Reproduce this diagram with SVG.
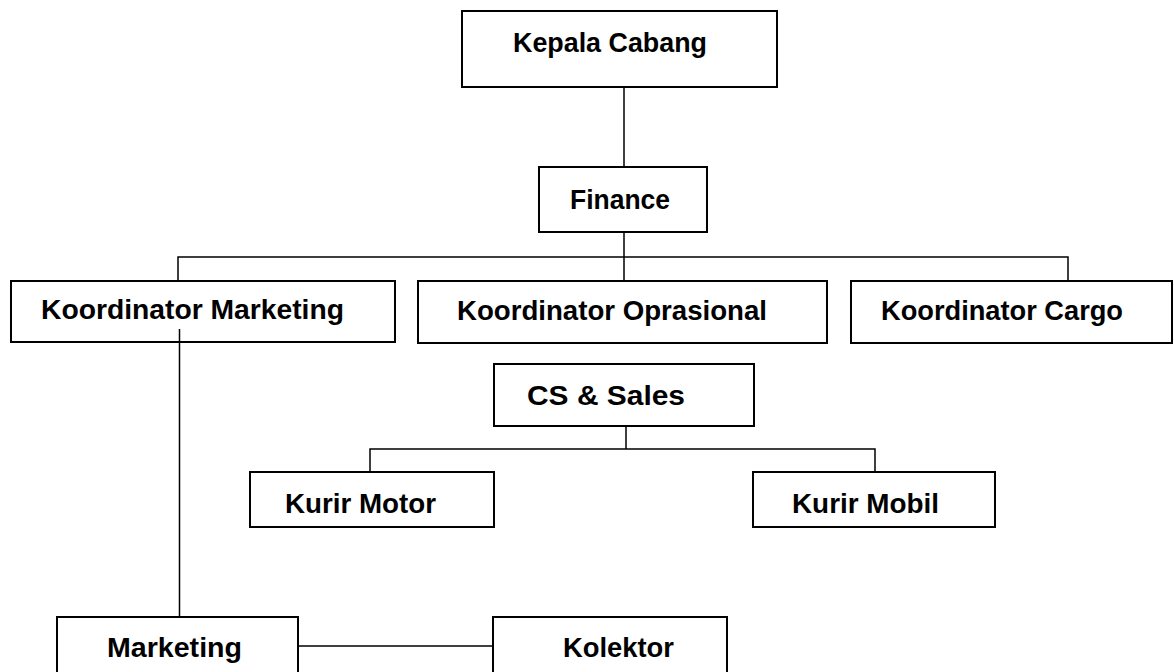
<svg xmlns="http://www.w3.org/2000/svg" width="1174" height="672" viewBox="0 0 1174 672">
<style>
.box{fill:#fff;stroke:#000;stroke-width:2}
.lbl{font-family:"Liberation Sans",Arial,sans-serif;font-weight:bold;font-size:27px;fill:#000;text-anchor:middle}
.con{fill:none;stroke:#000;stroke-width:1.5}
</style>
<rect width="1174" height="672" fill="#fff"/>
<g id="kepala-cabang"><rect class="box" x="462" y="11" width="315" height="76"/><text class="lbl" x="610" y="52" textLength="194" lengthAdjust="spacingAndGlyphs">Kepala Cabang</text></g>
<g id="finance"><rect class="box" x="539" y="167" width="168" height="65"/><text class="lbl" x="620" y="209" textLength="100" lengthAdjust="spacingAndGlyphs">Finance</text></g>
<g id="koordinator-marketing"><rect class="box" x="11" y="281" width="384" height="61"/><text class="lbl" x="192.5" y="319" textLength="303" lengthAdjust="spacingAndGlyphs">Koordinator Marketing</text></g>
<g id="koordinator-oprasional"><rect class="box" x="418" y="281" width="409" height="62"/><text class="lbl" x="612" y="320" textLength="310" lengthAdjust="spacingAndGlyphs">Koordinator Oprasional</text></g>
<g id="koordinator-cargo"><rect class="box" x="851" y="281" width="321" height="62"/><text class="lbl" x="1002" y="320" textLength="242" lengthAdjust="spacingAndGlyphs">Koordinator Cargo</text></g>
<g id="cs-sales"><rect class="box" x="494" y="364" width="260" height="62"/><text class="lbl" x="606" y="405" textLength="158" lengthAdjust="spacingAndGlyphs">CS &amp; Sales</text></g>
<g id="kurir-motor"><rect class="box" x="250" y="472" width="244" height="55"/><text class="lbl" x="360.5" y="513" textLength="151" lengthAdjust="spacingAndGlyphs">Kurir Motor</text></g>
<g id="kurir-mobil"><rect class="box" x="753" y="472" width="242" height="55"/><text class="lbl" x="865.5" y="513" textLength="147" lengthAdjust="spacingAndGlyphs">Kurir Mobil</text></g>
<g id="marketing"><rect class="box" x="57" y="617" width="241" height="75"/><text class="lbl" x="174.5" y="657" textLength="135" lengthAdjust="spacingAndGlyphs">Marketing</text></g>
<g id="kolektor"><rect class="box" x="493" y="617" width="234" height="75"/><text class="lbl" x="618.5" y="657" textLength="111" lengthAdjust="spacingAndGlyphs">Kolektor</text></g>
<g id="connectors">
<path class="con" d="M624 88V166"/>
<path class="con" d="M624 233V280M178 280V257H1068V280"/>
<path class="con" d="M179.5 329V616"/>
<path class="con" d="M626 427V449M370 471V449H875V471"/>
<path class="con" d="M299 646H492"/>
</g>
</svg>
